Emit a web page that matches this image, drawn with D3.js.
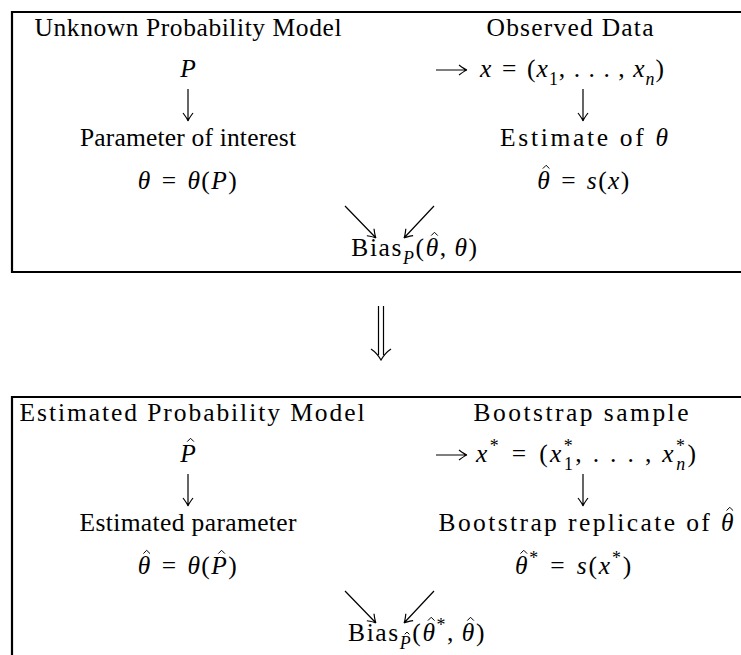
<!DOCTYPE html>
<html>
<head>
<meta charset="utf-8">
<script src="https://cdn.jsdelivr.net/npm/d3@7"></script>
<style>
  body { margin: 0; background: #fff; }
  text { font-family: "Liberation Serif", "Times New Roman", serif; fill: #000; }
</style>
</head>
<body>
<svg id="chart" width="741" height="655"></svg>
<script>
// segments are [text, style, opt]
// style: r roman, i italic, ih italic with hat, sub / subi / subih subscripts, sup superscript
// opt "stack" puts the segment under the previous one (x*_1)
const panels = ["real", "bootstrap"];
const titlesLeft = ["Unknown Probability Model", "Estimated Probability Model"];
const titlesRight = ["Observed Data", "Bootstrap sample"];
const namesLeft = [[["Parameter of interest", "r"]], [["Estimated parameter", "r"]]];
const namesRight = [
  [["Estimate of ", "r"], ["θ", "i"]],
  [["Bootstrap replicate of ", "r"], ["θ", "ih"]]
];
const modelSym = [[["P", "i"]], [["P", "ih"]]];
const sampleSym = [
  [["x", "i"], ["\u2004=\u2004(", "r"], ["x", "i"], ["1", "sub"], [", . . . , ", "r"], ["x", "i"], ["n", "subi"], [")", "r"]],
  [["x", "i"], ["*", "sup"], ["\u2004=\u2004(", "r"], ["x", "i"], ["*", "sup"], ["1", "sub", "stack"], [", . . . , ", "r"],
   ["x", "i"], ["*", "sup"], ["n", "subi", "stack"], [")", "r"]]
];
const paramSym = [
  [["θ", "i"], ["\u2004=\u2004", "r"], ["θ", "i"], ["(", "r"], ["P", "i"], [")", "r"]],
  [["θ", "ih"], ["\u2004=\u2004", "r"], ["θ", "i"], ["(", "r"], ["P", "ih"], [")", "r"]]
];
const estSym = [
  [["θ", "ih"], ["\u2004=\u2004", "r"], ["s", "i"], ["(", "r"], ["x", "i"], [")", "r"]],
  [["θ", "ih"], ["*", "sup"], ["\u2004=\u2004", "r"], ["s", "i"], ["(", "r"], ["x", "i"], ["*", "sup"], [")", "r"]]
];
const biasSym = [
  [["Bias", "r"], ["P", "subi"], ["(", "r"], ["θ", "ih"], [",\u2009", "r"], ["θ", "i"], [")", "r"]],
  [["Bias", "r"], ["P", "subih"], ["(", "r"], ["θ", "ih"], ["*", "sup"], [",\u2009", "r"], ["θ", "ih"], [")", "r"]]
];

const W = 741, H = 655;
const fontSize = 25.5;
const svg = d3.select("#chart");

const panelY = d3.scaleOrdinal().domain(panels).range([12, 397]);
const rowNames = ["title", "symbol", "downTop", "downBottom", "name", "formula", "diagTop", "diagBottom", "bias"];
const rowY = d3.scaleOrdinal().domain(rowNames).range([24, 65, 77, 109, 134, 177, 194, 226, 244]);

// horizontal placement of each label: [centre, width, letter spacing]; width 0 keeps the natural width
const place = [
  { title: [[188, 307], [570, 167]], symbol: [[188, 0], [572, 184]], name: [[188, 216], [584, 168]],
    formula: [[188, 0, 1.4], [584, 0, 1.4]], bias: [415, 0, 1.6], down: [188, 583] },
  { title: [[192, 345], [581, 215]], symbol: [[188, 0], [586, 220]], name: [[188, 217], [586, 295]],
    formula: [[188, 0, 1.4], [574, 0, 1.8]], bias: [417, 0, 1.6], down: [188, 583] }
];

function mathText(g, [x, width, ls], y, segs) {
  const t = g.append("text")
    .attr("x", x).attr("y", y)
    .attr("text-anchor", "middle")
    .attr("font-size", fontSize)
    .attr("letter-spacing", ls || 0);
  let shift = 0, idx = 0, prev = null;
  const hats = [];
  segs.forEach(([s, st, opt]) => {
    const sub = st.startsWith("sub"), sup = st === "sup";
    const target = sub ? fontSize * 0.3 : sup ? -fontSize * 0.4 : 0;
    const fs = sub || sup ? fontSize * 0.7 : fontSize;
    const ts = t.append("tspan")
      .text(s)
      .attr("dy", target - shift)
      .attr("font-style", st.includes("i") ? "italic" : "normal")
      .attr("font-size", fs);
    if (opt === "stack" && prev) ts.attr("dx", -prev.node().getComputedTextLength() - 2);
    shift = target;
    if (st.endsWith("h")) hats.push({ idx, fs, base: y + target });
    idx += s.length;
    prev = ts;
  });
  if (width) t.attr("textLength", width).attr("lengthAdjust", "spacing");
  hats.forEach((h) => {
    const e = t.node().getExtentOfChar(h.idx);
    const cx = e.x + e.width / 2 + h.fs * 0.1 - (ls || 0) / 2;
    const yb = h.base - h.fs * 0.8;
    g.append("path")
      .attr("d", `M${cx - h.fs * 0.13},${yb} L${cx},${yb - h.fs * 0.13} L${cx + h.fs * 0.13},${yb}`)
      .attr("fill", "none")
      .attr("stroke", "#000")
      .attr("stroke-width", 1);
  });
  return t;
}

function arrow(g, x1, y1, x2, y2) {
  const dx = x2 - x1, dy = y2 - y1, len = Math.hypot(dx, dy);
  const ux = dx / len, uy = dy / len, nx = -uy, ny = ux;
  const L = 8, Wd = 5;
  const p = d3.path();
  p.moveTo(x1, y1);
  p.lineTo(x2, y2);
  [1, -1].forEach((s) => {
    p.moveTo(x2 - ux * L + nx * Wd * s, y2 - uy * L + ny * Wd * s);
    p.quadraticCurveTo(x2 - ux * L * 0.3 + nx * Wd * 0.15 * s, y2 - uy * L * 0.3 + ny * Wd * 0.15 * s, x2, y2);
  });
  g.append("path")
    .attr("d", p.toString())
    .attr("fill", "none")
    .attr("stroke", "#000")
    .attr("stroke-width", 1.2);
}

panels.forEach((panel, i) => {
  const top = panelY(panel);
  const pl = place[i];
  const g = svg.append("g").attr("transform", `translate(0,${top})`);

  // frame: top, left and (for the first panel) bottom edges
  const frame = d3.path();
  if (i === 0) {
    frame.moveTo(W + 5, 0); frame.lineTo(12, 0); frame.lineTo(12, 260); frame.lineTo(W + 5, 260);
  } else {
    frame.moveTo(W + 5, 0); frame.lineTo(12, 0); frame.lineTo(12, H - top + 5);
  }
  g.append("path").attr("d", frame.toString()).attr("fill", "none").attr("stroke", "#000").attr("stroke-width", 2.2);

  mathText(g, pl.title[0], rowY("title"), [[titlesLeft[i], "r"]]);
  mathText(g, pl.title[1], rowY("title"), [[titlesRight[i], "r"]]);
  mathText(g, pl.symbol[0], rowY("symbol"), modelSym[i]);
  mathText(g, pl.symbol[1], rowY("symbol"), sampleSym[i]);
  arrow(g, 436, rowY("symbol") - 7, 467, rowY("symbol") - 7);
  arrow(g, pl.down[0], rowY("downTop"), pl.down[0], rowY("downBottom"));
  arrow(g, pl.down[1], rowY("downTop"), pl.down[1], rowY("downBottom"));
  mathText(g, pl.name[0], rowY("name"), namesLeft[i]);
  mathText(g, pl.name[1], rowY("name"), namesRight[i]);
  mathText(g, pl.formula[0], rowY("formula"), paramSym[i]);
  mathText(g, pl.formula[1], rowY("formula"), estSym[i]);
  arrow(g, 345, rowY("diagTop"), 376, rowY("diagBottom"));
  arrow(g, 434, rowY("diagTop"), 404, rowY("diagBottom"));
  mathText(g, pl.bias, rowY("bias"), biasSym[i]);
});

// implication arrow between the panels
const dbl = d3.path();
dbl.moveTo(378.5, 306); dbl.lineTo(378.5, 355);
dbl.moveTo(383.5, 306); dbl.lineTo(383.5, 355);
dbl.moveTo(371, 349); dbl.quadraticCurveTo(377, 353, 381, 360); dbl.quadraticCurveTo(385, 353, 391, 349);
svg.append("path").attr("d", dbl.toString()).attr("fill", "none").attr("stroke", "#000").attr("stroke-width", 1.2);
</script>
</body>
</html>
